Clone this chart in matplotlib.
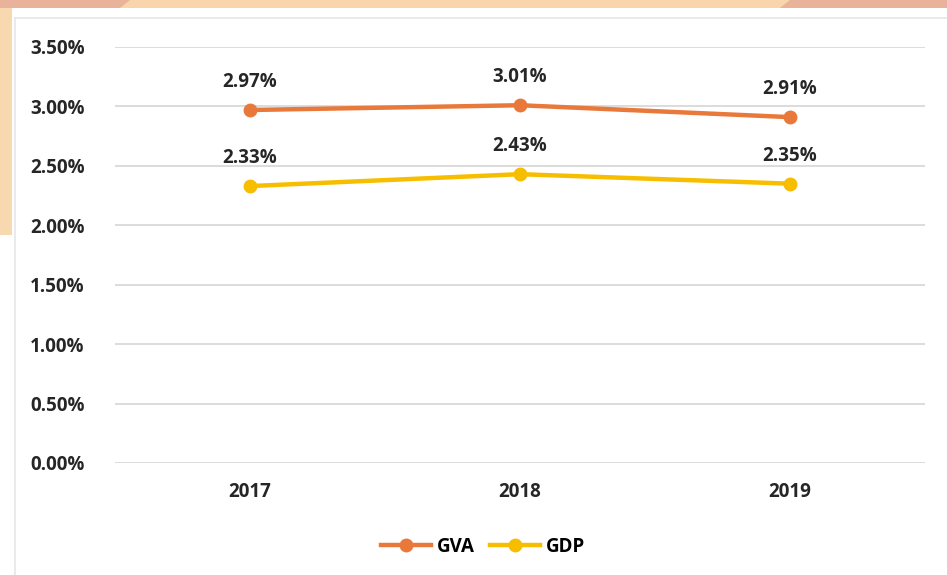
import matplotlib.pyplot as plt
from matplotlib.patches import Rectangle, Polygon

years = ["2017", "2018", "2019"]
gva = [2.97, 3.01, 2.91]
gdp = [2.33, 2.43, 2.35]
yticks = [0.0, 0.5, 1.0, 1.5, 2.0, 2.5, 3.0, 3.5]

plt.rcParams['font.family'] = ['Open Sans', 'DejaVu Sans']

fig = plt.figure(figsize=(9.47, 5.75), dpi=100)
W, H = 947, 575

# decorative background bits (slide frame)
fig.patches.append(Rectangle((0, 1 - 8 / H), 1, 8 / H, transform=fig.transFigure,
                             facecolor="#E9B39B", edgecolor="none", zorder=0))
fig.patches.append(Polygon([(130 / W, 1), (790 / W, 1), (780 / W, 1 - 8 / H), (120 / W, 1 - 8 / H)],
                           closed=True, transform=fig.transFigure,
                           facecolor="#F8D5AA", edgecolor="none", zorder=0))
fig.patches.append(Rectangle((0, 1 - 235 / H), 12 / W, 227 / H, transform=fig.transFigure,
                             facecolor="#F8D8AE", edgecolor="none", zorder=0))
fig.lines.append(plt.Line2D([15 / W, 1], [1 - 18 / H, 1 - 18 / H], transform=fig.transFigure,
                            color="#E6E6E6", lw=1.2))
fig.lines.append(plt.Line2D([15 / W, 15 / W], [0, 1 - 18 / H], transform=fig.transFigure,
                            color="#E6E6E6", lw=1.2))

ax = fig.add_axes([115 / W, 1 - 463 / H, 810 / W, 416 / H])
x = range(len(years))
ax.plot(x, gva, color="#E8793A", lw=3.2, marker="o", ms=9, label="GVA", zorder=3)
ax.plot(x, gdp, color="#F7BE00", lw=3.2, marker="o", ms=9, label="GDP", zorder=3)

fs = 13.5
for i in x:
    ax.annotate(f"{gva[i]:.2f}%", (i, gva[i]), xytext=(0, 13), textcoords="offset points",
                ha="center", va="bottom", fontsize=fs, fontweight="bold", color="#262626")
    ax.annotate(f"{gdp[i]:.2f}%", (i, gdp[i]), xytext=(0, 13), textcoords="offset points",
                ha="center", va="bottom", fontsize=fs, fontweight="bold", color="#262626")

ax.set_xlim(-0.5, 2.5)
ax.set_ylim(0, 3.5)
ax.set_yticks(yticks)
ax.set_yticklabels([f"{v:.2f}%" for v in yticks])
ax.set_xticks(list(x))
ax.set_xticklabels(years)
ax.tick_params(length=0, labelsize=fs, colors="#262626", pad=14)
ax.tick_params(axis="y", pad=22)
for lab in ax.get_xticklabels() + ax.get_yticklabels():
    lab.set_fontweight("bold")
ax.grid(axis="y", color="#D9D9D9", lw=1.3)
ax.set_axisbelow(True)
for s in ax.spines.values():
    s.set_visible(False)

fig.legend(loc="center", bbox_to_anchor=(0.51, 1 - 547 / H), ncol=2, frameon=False,
           prop={"weight": "bold", "size": fs}, handlelength=2.7, handletextpad=0.3,
           columnspacing=0.8)

fig.savefig("out.png", dpi=100)
